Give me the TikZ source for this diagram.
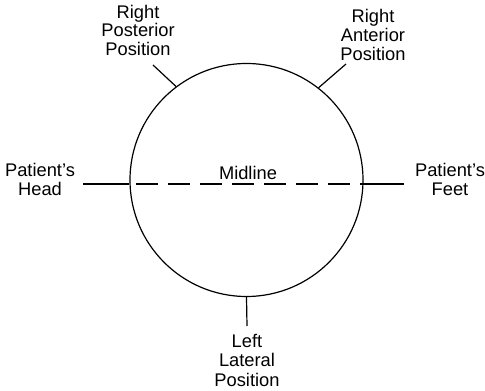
\documentclass[tikz,border=0pt]{standalone}
\usepackage{fontspec}
\setmainfont{Liberation Sans}
\usetikzlibrary{positioning}

\begin{document}
\begin{tikzpicture}[
    x=1pt, y=1pt,
    line width=1.2pt,
    font=\fontsize{18.3}{18.8}\selectfont,
    lbl/.style={align=center, inner sep=0pt, anchor=north},
    midline/.style={dash pattern=on 22pt off 10pt, dash phase=25pt}
]
  \useasboundingbox (0,0) rectangle (485,391);

  \node[circle, draw, minimum size=233pt, inner sep=0pt] (ring) at (246.5,211) {};

  \coordinate (postend) at (153,326);
  \coordinate (antend) at (346,327);
  \coordinate (latend) at (247,65);
  \draw (ring.127) -- (postend);
  \draw (ring.52) -- (antend);
  \draw (ring.270) -- (latend);

  \coordinate (headend) at (83,207);
  \coordinate (feetend) at (404,207);
  \coordinate (midL) at (ring.west |- headend);
  \coordinate (midR) at (ring.east |- feetend);
  \draw (headend) -- (midL);
  \draw[midline] (midL) -- (midR);
  \draw (midR) -- (feetend);

  \node[lbl] (rpost) at (138,386.8) {Right\\Posterior\\Position};
  \node[lbl] (rant) at (373,382) {Right\\Anterior\\Position};
  \node[lbl] (head) at (40,228) {Patient's\\Head};
  \node[lbl] (feet) at (450,228) {Patient's\\Feet};
  \node[lbl] (mid) at (248,225.5) {Midline};
  \node[lbl] (llat) at (247,57.5) {Left\\[0.8pt]Lateral\\[0.8pt]Position};
\end{tikzpicture}
\end{document}
